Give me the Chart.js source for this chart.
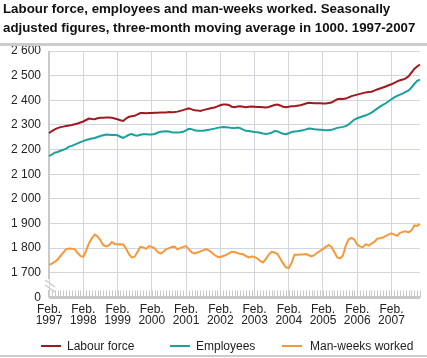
<!DOCTYPE html>
<html>
<head>
<meta charset="utf-8">
<script src="https://cdn.jsdelivr.net/npm/chart.js@4.4.0/dist/chart.umd.min.js"></script>
<style>
  body { margin: 0; background: #fff; font-family: 'Liberation Sans', Arial, sans-serif; }
  #wrap { position: relative; width: 427px; height: 358px; overflow: hidden; }
  #title { position: absolute; left: 3px; top: 0px; font-weight: bold; font-size: 13.3px; line-height: 18.5px; color: #111; white-space: nowrap; }
  .rule { position: absolute; left: 0; width: 427px; background: #cccccc; }
  canvas { position: absolute; left: 0; top: 0; }
  .lg { position: absolute; top: 339px; font-size: 12px; color: #222; white-space: nowrap; }
  .sw { position: absolute; top: 345px; width: 20px; height: 2px; }
</style>
</head>
<body>
<div id="wrap">
  <canvas id="chart" width="427" height="358"></canvas>
  <div id="title">Labour force, employees and man-weeks worked. Seasonally<br>adjusted figures, three-month moving average in 1000. 1997-2007</div>
  <div class="rule" style="top:43px;height:3px"></div>
  <div class="rule" style="top:355px;height:2px"></div>
  <div class="sw" style="left:41px;background:#a1191e"></div><div class="lg" style="left:67px">Labour force</div>
  <div class="sw" style="left:170px;background:#1aa19d"></div><div class="lg" style="left:196px">Employees</div>
  <div class="sw" style="left:282px;background:#f7993a"></div><div class="lg" style="left:310px">Man-weeks worked</div>
</div>
<script>
// monthly, Feb 1997 - Dec 2007
const months = [];
for (let i = 0; i < 131; i++) {
    const m = (1 + i) % 12;
    const y = 1997 + Math.floor((1 + i) / 12);
    months.push(y + '-' + String(m + 1).padStart(2, '0'));
}

const labourForce = [
    2266, 2275, 2282, 2287, 2291, 2293, 2296, 2298, 2300, 2303, 2306, 2310,
    2314, 2320, 2326, 2324, 2323, 2327, 2329, 2329, 2330, 2330, 2329, 2326,
    2323, 2319, 2316, 2326, 2333, 2335, 2337, 2343, 2348, 2348, 2347, 2348,
    2348, 2349, 2349, 2350, 2350, 2350, 2352, 2351, 2352, 2354, 2357, 2360,
    2364, 2367, 2363, 2360, 2359, 2357, 2360, 2363, 2366, 2369, 2371, 2375,
    2380, 2383, 2383, 2381, 2374, 2372, 2375, 2376, 2374, 2372, 2374, 2375,
    2374, 2373, 2373, 2372, 2371, 2373, 2377, 2381, 2383, 2379, 2374, 2372,
    2374, 2376, 2376, 2378, 2380, 2383, 2387, 2390, 2389, 2388, 2388, 2388,
    2387, 2387, 2389, 2391, 2398, 2404, 2406, 2405, 2407, 2412, 2417, 2420,
    2423, 2426, 2429, 2432, 2434, 2435, 2439, 2444, 2448, 2452, 2456, 2461,
    2465, 2471, 2477, 2481, 2484, 2489, 2497, 2512, 2527, 2537, 2545
];
const employees = [
    2173, 2180, 2187, 2190, 2195, 2199, 2204, 2212, 2215, 2220, 2225, 2230,
    2234, 2239, 2242, 2245, 2247, 2251, 2255, 2258, 2261, 2260, 2259, 2259,
    2258, 2252, 2247, 2254, 2260, 2263, 2258, 2256, 2260, 2262, 2262, 2261,
    2261, 2263, 2268, 2272, 2273, 2274, 2273, 2270, 2269, 2269, 2270, 2272,
    2278, 2284, 2283, 2278, 2276, 2276, 2276, 2278, 2280, 2283, 2285, 2288,
    2290, 2292, 2291, 2290, 2287, 2287, 2289, 2287, 2281, 2276, 2275, 2273,
    2271, 2270, 2268, 2265, 2263, 2265, 2268, 2275, 2274, 2269, 2264, 2262,
    2266, 2271, 2273, 2274, 2276, 2278, 2282, 2285, 2284, 2282, 2281, 2280,
    2279, 2278, 2278, 2280, 2284, 2288, 2290, 2292, 2295, 2302, 2312, 2322,
    2327, 2331, 2335, 2339, 2344, 2350, 2358, 2366, 2374, 2381, 2388, 2396,
    2404, 2412, 2418, 2423, 2428, 2434, 2440, 2452, 2466, 2479, 2484
];
const manWeeks = [
    1732, 1737, 1744, 1754, 1768, 1782, 1796, 1798, 1797, 1796, 1780, 1768,
    1764, 1790, 1820, 1840, 1855, 1847, 1832, 1812, 1807, 1812, 1825, 1817,
    1815, 1816, 1815, 1798, 1775, 1762, 1765, 1785, 1805, 1803, 1797, 1808,
    1805, 1799, 1785, 1778, 1785, 1795, 1800, 1805, 1806, 1795, 1800, 1805,
    1808, 1795, 1783, 1778, 1782, 1787, 1791, 1796, 1791, 1782, 1772, 1765,
    1763, 1768, 1772, 1779, 1785, 1784, 1780, 1777, 1775, 1768, 1762, 1766,
    1764, 1758, 1748, 1742, 1756, 1774, 1785, 1782, 1777, 1758, 1738, 1722,
    1719, 1740, 1773, 1773, 1774, 1774, 1776, 1771, 1766, 1772, 1781, 1789,
    1796, 1805, 1813, 1805, 1783, 1762, 1758, 1770, 1811, 1836, 1842, 1835,
    1814, 1806, 1804, 1816, 1810, 1818, 1825, 1838, 1840, 1843, 1850, 1855,
    1860, 1855, 1850, 1862, 1866, 1868, 1864, 1872, 1892, 1890, 1898
];

const seriesNames = ['Labour force', 'Employees', 'Man-weeks worked'];
const seriesColors = ['#a1191e', '#1aa19d', '#f7993a'];

const gridColor = '#d3d5dc';
const axisColor = '#c8c8c8';
const fontFamily = "'Liberation Sans', Arial, sans-serif";

const fmt = v => (v === 1600 ? '0' : String(v).replace(/\B(?=(\d{3})+(?!\d))/g, ' '));

// minor month ticks, broken left axis
const axisDecor = {
    id: 'axisDecor',
    beforeDatasetsDraw(chart) {
        const { ctx, chartArea: a, scales } = chart;
        const x = scales.x, y = scales.y;
        ctx.save();
        ctx.strokeStyle = axisColor;
        ctx.lineWidth = 1;
        for (let i = 0; i < months.length; i++) {
            const px = Math.round(x.getPixelForValue(i)) + 0.5;
            ctx.beginPath();
            ctx.moveTo(px, a.bottom - 7);
            ctx.lineTo(px, a.bottom);
            ctx.stroke();
        }
        const breakTop = y.getPixelForValue(1675);
        const breakBot = y.getPixelForValue(1630);
        ctx.lineWidth = 2;
        ctx.beginPath();
        ctx.moveTo(a.left, a.top);
        ctx.lineTo(a.left, breakTop);
        ctx.moveTo(a.left, breakBot);
        ctx.lineTo(a.left, a.bottom);
        ctx.stroke();
        ctx.lineWidth = 1.2;
        ctx.beginPath();
        ctx.moveTo(a.left - 4, breakTop + 1);
        ctx.lineTo(a.left + 6, breakTop + 8);
        ctx.moveTo(a.left - 4, breakTop + 6);
        ctx.lineTo(a.left + 6, breakTop + 13);
        ctx.stroke();
        ctx.restore();
    }
};

new Chart(document.getElementById('chart'), {
    type: 'line',
    data: {
        labels: months,
        datasets: [labourForce, employees, manWeeks].map((d, i) => ({
            label: seriesNames[i],
            data: d,
            borderColor: seriesColors[i],
            backgroundColor: seriesColors[i],
            borderWidth: 2,
            pointRadius: 0,
            tension: 0
        }))
    },
    options: {
        responsive: false,
        animation: false,
        layout: { padding: { top: 51, left: 3, right: 4, bottom: 25 } },
        plugins: {
            legend: { display: false },
            title: { display: false },
            tooltip: { enabled: false }
        },
        scales: {
            x: {
                grid: {
                    drawTicks: false,
                    color: c => (c.tick && months[c.tick.value].endsWith('-02') ? gridColor : 'transparent')
                },
                border: { display: false },
                ticks: {
                    autoSkip: false,
                    maxRotation: 0,
                    padding: 7,
                    color: '#222',
                    font: { family: fontFamily, size: 12, lineHeight: 0.9 },
                    callback: function (value) {
                        const lab = this.getLabelForValue(value);
                        return lab.endsWith('-02') ? ['Feb.', lab.slice(0, 4)] : '';
                    }
                }
            },
            y: {
                min: 1600,
                max: 2600,
                grid: {
                    drawTicks: false,
                    color: c => (c.tick && c.tick.value === 1600 ? axisColor : gridColor),
                    lineWidth: c => (c.tick && c.tick.value === 1600 ? 3 : 1)
                },
                border: { display: false },
                ticks: {
                    stepSize: 100,
                    padding: 8,
                    color: '#222',
                    font: { family: fontFamily, size: 12 },
                    callback: v => fmt(v)
                }
            }
        }
    },
    plugins: [axisDecor]
});
</script>
</body>
</html>
